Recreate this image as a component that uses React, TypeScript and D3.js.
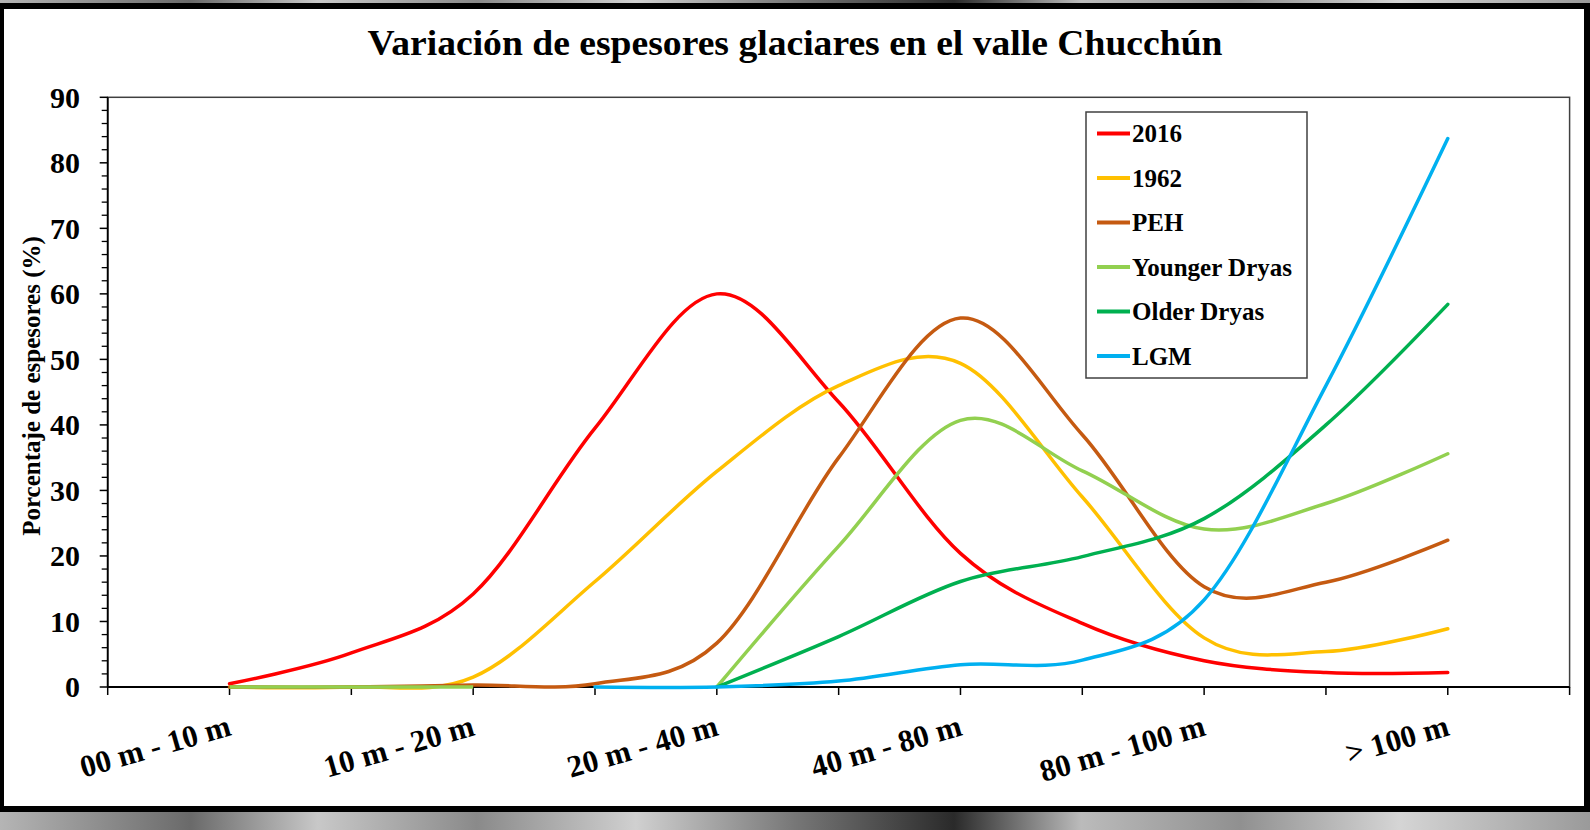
import React from "react";
import * as d3 from "d3";

const W = 1590;
const H = 830;

const categoryLabels = ["00 m - 10 m", "10 m - 20 m", "20 m - 40 m", "40 m - 80 m", "80 m - 100 m", "> 100 m"];
const labelPositions = [1, 3, 5, 7, 9, 11];
const xPositions = [1, 2, 3, 4, 5, 6, 7, 8, 9, 10, 11];
const yTicks = [0, 10, 20, 30, 40, 50, 60, 70, 80, 90];

const s2016 = [0.5, 5.2, 14.2, 39.5, 60, 43.5, 20.4, 9.7, 4.0, 2.2, 2.2];
const s1962 = [0, 0, 1.5, 16.1, 32.9, 46, 49.4, 29, 7.5, 5.4, 8.9];
const sPEH = [0, 0, 0.3, 0.5, 6.7, 35, 56.3, 38.5, 15.3, 16, 22.4];
const sYD = [null, null, null, null, 0, 21.5, 40.7, 33, 24.1, 28, 35.6];
const sOD = [null, null, null, null, 0, 7.7, 16.1, 19.9, 25.7, 40, 58.4];
const sLGM = [null, null, null, 0, 0, 0.9, 3.4, 4.1, 13.3, 46, 83.7];
// early flat part of Younger Dryas lying on the axis
const sYDbase = [0, 0, 0];

const seriesNames = ["2016", "1962", "PEH", "Younger Dryas", "Older Dryas", "LGM"];
const seriesColors = ["#FF0000", "#FFC000", "#C55A11", "#92D050", "#00B050", "#00B0F0"];
const seriesValues = [s2016, s1962, sPEH, sYD, sOD, sLGM];

const left = 107.7;
const right = 1569.6;
const top = 97.3;
const bottom = 687;

const FONT = "'Liberation Serif', 'Times New Roman', serif";

export default function App() {
  const x = d3.scaleLinear().domain([0, 12]).range([left, right]);
  const y = d3.scaleLinear().domain([0, 90]).range([bottom, top]);

  const line = d3
    .line<{ x: number; v: number | null }>()
    .defined((d) => d.v !== null && d.v !== undefined)
    .x((d) => x(d.x))
    .y((d) => y(d.v as number))
    .curve(d3.curveCardinal.tension(0));

  const flat = d3
    .line<{ x: number; v: number }>()
    .x((d) => x(d.x))
    .y((d) => y(d.v));

  const minorTicks = d3.range(0, 91, 2).filter((v) => v % 10 !== 0);
  const xTickVals = d3.range(0, 13);

  const legX = 1086;
  const legY = 112;
  const legRow0 = 133.5;
  const legStep = 44.5;

  return (
    <svg
      width={W}
      height={H}
      style={{ position: "absolute", left: 0, top: 0, display: "block" }}
      xmlns="http://www.w3.org/2000/svg"
    >
      <defs>
        <linearGradient id="mapg" x1="0" x2="1" y1="0" y2="0">
          <stop offset="0" stopColor="#b5b5b5" />
          <stop offset="0.12" stopColor="#6a6a6a" />
          <stop offset="0.2" stopColor="#c8c8c8" />
          <stop offset="0.3" stopColor="#8a8a8a" />
          <stop offset="0.4" stopColor="#d0d0d0" />
          <stop offset="0.5" stopColor="#777" />
          <stop offset="0.6" stopColor="#2a2a2a" />
          <stop offset="0.68" stopColor="#bbbbbb" />
          <stop offset="0.78" stopColor="#909090" />
          <stop offset="0.88" stopColor="#d5d5d5" />
          <stop offset="1" stopColor="#9a9a9a" />
        </linearGradient>
      </defs>
      <rect x={0} y={0} width={W} height={H} fill="url(#mapg)" />
      <rect x={0} y={3} width={W} height={809} fill="#000" />
      <rect x={4} y={9} width={1580} height={797} fill="#fff" />

      <text
        x={795}
        y={55}
        textAnchor="middle"
        fontFamily={FONT}
        fontWeight="bold"
        fontSize={36}
        textLength={855}
        lengthAdjust="spacingAndGlyphs"
        fill="#000"
      >
        Variación de espesores glaciares en el valle Chucchún
      </text>

      {/* plot frame */}
      <rect x={left} y={top} width={right - left} height={bottom - top} fill="none" stroke="#404040" strokeWidth={1.5} />

      {/* y axis */}
      <line x1={left} x2={left} y1={top} y2={bottom} stroke="#000" strokeWidth={1.8} />
      {yTicks.map((t) => (
        <g key={"yt" + t}>
          <line x1={left - 8} x2={left} y1={y(t)} y2={y(t)} stroke="#000" strokeWidth={1.5} />
          <text
            x={80}
            y={y(t)}
            dy="0.34em"
            textAnchor="end"
            fontFamily={FONT}
            fontWeight="bold"
            fontSize={30}
            fill="#000"
          >
            {t}
          </text>
        </g>
      ))}
      {minorTicks.map((t) => (
        <line key={"ym" + t} x1={left - 6} x2={left} y1={y(t)} y2={y(t)} stroke="#000" strokeWidth={1.3} />
      ))}
      <text
        transform={`translate(40,386) rotate(-90)`}
        textAnchor="middle"
        fontFamily={FONT}
        fontWeight="bold"
        fontSize={25}
        fill="#000"
      >
        Porcentaje de espesores (%)
      </text>

      {/* x axis */}
      <line x1={left} x2={right} y1={bottom} y2={bottom} stroke="#000" strokeWidth={2} />
      {xTickVals.map((t) => (
        <line key={"xt" + t} x1={x(t)} x2={x(t)} y1={bottom} y2={bottom + 8} stroke="#000" strokeWidth={1.5} />
      ))}
      {categoryLabels.map((lab, i) => (
        <text
          key={"xl" + i}
          transform={`translate(${x(labelPositions[i]) + 3},735) rotate(-16)`}
          textAnchor="end"
          fontFamily={FONT}
          fontWeight="bold"
          fontSize={31}
          fill="#000"
        >
          {lab}
        </text>
      ))}

      {/* series */}
      {seriesValues.map((vals, si) => (
        <g key={"s" + si}>
          <path
            d={line(vals.map((v, i) => ({ x: xPositions[i], v }))) || ""}
            fill="none"
            stroke={seriesColors[si]}
            strokeWidth={3.5}
            strokeLinejoin="round"
            strokeLinecap="round"
          />
          {si === 3 && (
            <path
              d={flat(sYDbase.map((v, i) => ({ x: xPositions[i], v }))) || ""}
              fill="none"
              stroke={seriesColors[si]}
              strokeWidth={3.5}
            />
          )}
        </g>
      ))}

      {/* legend */}
      <rect x={legX} y={legY} width={221} height={266} fill="#fff" stroke="#404040" strokeWidth={1.5} />
      {seriesNames.map((n, i) => (
        <g key={"lg" + i}>
          <line
            x1={1097}
            x2={1130}
            y1={legRow0 + legStep * i}
            y2={legRow0 + legStep * i}
            stroke={seriesColors[i]}
            strokeWidth={4}
          />
          <text
            x={1132}
            y={legRow0 + legStep * i}
            dy="0.35em"
            fontFamily={FONT}
            fontWeight="bold"
            fontSize={25}
            fill="#000"
          >
            {n}
          </text>
        </g>
      ))}
    </svg>
  );
}
